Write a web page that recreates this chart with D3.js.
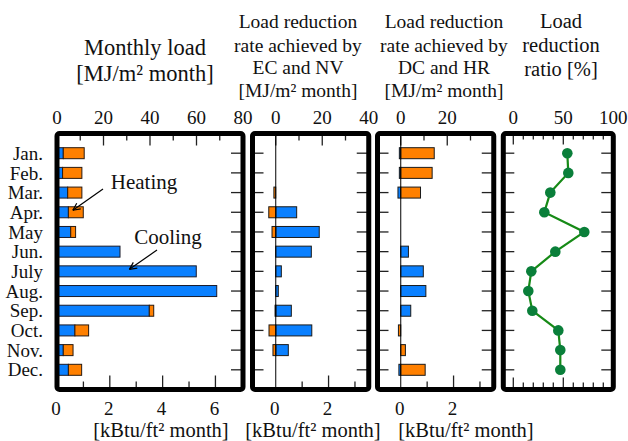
<!DOCTYPE html>
<html>
<head>
<meta charset="utf-8">
<script src="https://cdn.jsdelivr.net/npm/d3@7"></script>
<style>
  body { margin: 0; background: #fff; }
</style>
</head>
<body>
<div id="chart"></div>
<script>
// data (MJ/m2 month, and %)
const months = ["Jan.", "Feb.", "Mar.", "Apr.", "May", "Jun.", "July", "Aug.", "Sep.", "Oct.", "Nov.", "Dec."];
const coolLoad = [2.7, 2.4, 4.6, 4.9, 5.9, 27.1, 59.9, 68.7, 39.7, 7.7, 2.7, 4.9];
const heatLoad = [9.0, 8.3, 6.1, 6.4, 2.1, 0, 0, 0, 1.9, 5.9, 4.2, 5.7];
const ecnvCool = [0, 0, 0, 9.0, 18.7, 15.3, 2.4, 1.1, 6.7, 15.5, 5.4, 0];
const ecnvHeat = [0, 0, -0.8, -3.0, -1.6, 0, 0, 0, -0.3, -2.9, -1.2, 0];
const dchrCool = [-0.6, -0.6, -1.2, 0, 0, 3.3, 9.7, 10.8, 4.3, 0, 0, -0.8];
const dchrHeat = [14.4, 13.5, 8.5, 0, 0, 0, 0, 0, 0, -1.0, 2.0, 10.5];
const ratio = [54, 55, 37, 31, 71, 42, 18, 15, 19, 45, 47, 47];

const topTicksLoad = [0, 20, 40, 60, 80];
const topTicksRed = [0, 20, 40];
const topTicksRed2 = [0, 20];
const topTicksRatio = [0, 50, 100];
const kbtuLoad = [0, 2, 4, 6];
const kbtuRed = [0, 2];

const MJ_PER_KBTU = 11.357;
const width = 628, height = 441;
const blue = "#0a80ff", orange = "#ff8000", green = "#0a7f3a";
const serif = "'Liberation Serif', serif";

const svg = d3.select("#chart").append("svg")
    .attr("width", width).attr("height", height);

const y = d3.scaleLinear().domain([0, 13]).range([133.5, 389.5]);
const barH = 11;

const k = 2.325; // px per MJ
const panels = [
  {x: d3.scaleLinear().domain([0, 80]).range([57, 57 + 80 * k]), minor: 10, major: 20, labels: topTicksLoad, kbtu: kbtuLoad},
  {x: d3.scaleLinear().domain([-10, 40]).range([252.5, 252.5 + 50 * k]), minor: 10, major: 20, labels: topTicksRed, kbtu: kbtuRed},
  {x: d3.scaleLinear().domain([-10, 40]).range([377.5, 377.5 + 50 * k]), minor: 10, major: 20, labels: topTicksRed2, kbtu: kbtuRed},
  {x: d3.scaleLinear().domain([-10, 100]).range([503.3, 613.3]), minor: 10, major: 50, labels: topTicksRatio, kbtu: null}
];

const yTop = y.range()[0], yBot = y.range()[1];

panels.forEach(function(p, pi) {
  const g = svg.append("g");
  const [x0, x1] = p.x.range();
  const [d0, d1] = p.x.domain();

  // month ticks, both sides, inward
  months.forEach(function(m, i) {
    g.append("line").attr("x1", x0).attr("x2", x0 + 11)
      .attr("y1", y(i + 1)).attr("y2", y(i + 1)).attr("stroke", "#222").attr("stroke-width", 1.3);
    g.append("line").attr("x1", x1).attr("x2", x1 - 12)
      .attr("y1", y(i + 1)).attr("y2", y(i + 1)).attr("stroke", "#222").attr("stroke-width", 1.3);
  });

  // top ticks (MJ or %)
  for (let v = Math.max(0, d0 + p.minor); v < d1; v += p.minor) {
    const isMajor = v % p.major === 0;
    const len = pi === 3 ? (v === 0 || v === 50 ? 11 : 6) : (isMajor ? 12 : 7);
    g.append("line").attr("x1", p.x(v)).attr("x2", p.x(v))
      .attr("y1", yTop).attr("y2", yTop + len).attr("stroke", "#222").attr("stroke-width", 1.3);
  }
  // bottom ticks (kBtu or %)
  if (p.kbtu) {
    for (let kb = 1; kb * MJ_PER_KBTU < d1 - 1; kb++) {
      const len = kb % 2 === 0 ? 14 : 8;
      const xx = p.x(kb * MJ_PER_KBTU);
      g.append("line").attr("x1", xx).attr("x2", xx)
        .attr("y1", yBot).attr("y2", yBot - len).attr("stroke", "#222").attr("stroke-width", 1.3);
    }
  } else {
    for (let v = 0; v < d1; v += p.minor) {
      const len = (v === 0 || v === 50) ? 12 : 7;
      g.append("line").attr("x1", p.x(v)).attr("x2", p.x(v))
        .attr("y1", yBot).attr("y2", yBot - len).attr("stroke", "#222").attr("stroke-width", 1.3);
    }
  }

  // top labels
  g.selectAll(".tl").data(p.labels).join("text")
    .attr("x", d => p.x(d)).attr("y", 117).attr("dy", "0.35em")
    .attr("text-anchor", "middle").style("font-size", "19px").text(d => d);
  // bottom labels
  if (p.kbtu) {
    g.selectAll(".bl").data(p.kbtu).join("text")
      .attr("x", d => p.x(d * MJ_PER_KBTU) - 1).attr("y", 408).attr("dy", "0.35em")
      .attr("text-anchor", "middle").style("font-size", "19px").text(d => d);
  }
  p.g = g;
});

// panel 1: stacked monthly load
const p1 = panels[0];
months.forEach(function(m, i) {
  p1.g.append("rect").attr("x", p1.x(0)).attr("y", y(i + 1) - barH / 2)
    .attr("width", p1.x(coolLoad[i]) - p1.x(0)).attr("height", barH)
    .attr("fill", blue).attr("stroke", "#1a1a2a").attr("stroke-width", 1);
  if (heatLoad[i] > 0) {
    p1.g.append("rect").attr("x", p1.x(coolLoad[i])).attr("y", y(i + 1) - barH / 2)
      .attr("width", p1.x(coolLoad[i] + heatLoad[i]) - p1.x(coolLoad[i])).attr("height", barH)
      .attr("fill", orange).attr("stroke", "#2a1a10").attr("stroke-width", 1);
  }
});

// panels 2 and 3: signed bars
function signedBars(p, vals, color) {
  vals.forEach(function(v, i) {
    if (v === 0) return;
    const a = p.x(Math.min(0, v)), b = p.x(Math.max(0, v));
    p.g.append("rect").attr("x", a).attr("y", y(i + 1) - barH / 2)
      .attr("width", b - a).attr("height", barH)
      .attr("fill", color).attr("stroke", "#1a1a1a").attr("stroke-width", 1);
  });
}
signedBars(panels[1], ecnvCool, blue);
signedBars(panels[1], ecnvHeat, orange);
signedBars(panels[2], dchrCool, blue);
signedBars(panels[2], dchrHeat, orange);

[panels[1], panels[2]].forEach(function(p) {
  p.g.append("line").attr("x1", p.x(0)).attr("x2", p.x(0))
    .attr("y1", yTop).attr("y2", yBot).attr("stroke", "#000").attr("stroke-width", 1);
});

// panel 4: ratio line
const p4 = panels[3];
p4.g.append("path").datum(ratio)
  .attr("d", d3.line().x(d => p4.x(d)).y((d, i) => y(i + 1)))
  .attr("fill", "none").attr("stroke", "#168a16").attr("stroke-width", 2.2);
p4.g.selectAll(".dot").data(ratio).join("circle")
  .attr("cx", d => p4.x(d)).attr("cy", (d, i) => y(i + 1)).attr("r", 5.3)
  .attr("fill", green);

// frames
panels.forEach(function(p) {
  const [x0, x1] = p.x.range();
  svg.append("rect").attr("x", x0).attr("y", yTop).attr("width", x1 - x0).attr("height", yBot - yTop)
    .attr("rx", 2.5).attr("fill", "none").attr("stroke", "#000").attr("stroke-width", 5);
});

// month labels
svg.selectAll(".month").data(months).join("text")
  .attr("x", 43).attr("y", (d, i) => y(i + 1)).attr("dy", "0.35em")
  .attr("text-anchor", "end").style("font-size", "19px").text(d => d);

// titles
function lines(cx, ys, texts, size) {
  texts.forEach(function(t, i) {
    svg.append("text").attr("x", cx).attr("y", ys[i]).attr("dy", "0.35em")
      .attr("text-anchor", "middle").style("font-size", size + "px").text(t);
  });
}
lines(145, [47, 73], ["Monthly load", "[MJ/m\u00b2 month]"], 22.5);
lines(298, [21, 45, 67, 90], ["Load reduction", "rate achieved by", "EC and NV", "[MJ/m\u00b2 month]"], 19.5);
lines(444, [21, 45, 67, 90], ["Load reduction", "rate achieved by", "DC and HR", "[MJ/m\u00b2 month]"], 19.5);
lines(561, [21, 45, 69], ["Load", "reduction", "ratio [%]"], 20.5);

// bottom units
lines(161, [430], ["[kBtu/ft\u00b2 month]"], 20.5);
lines(313, [430], ["[kBtu/ft\u00b2 month]"], 20.5);
lines(466, [430], ["[kBtu/ft\u00b2 month]"], 20.5);

// annotations
function arrow(xa, ya, xb, yb) {
  const ang = Math.atan2(yb - ya, xb - xa), L = 8, w = 0.45;
  svg.append("line").attr("x1", xa).attr("y1", ya).attr("x2", xb).attr("y2", yb)
    .attr("stroke", "#000").attr("stroke-width", 1.2);
  [-w, w].forEach(function(s) {
    svg.append("line").attr("x1", xb).attr("y1", yb)
      .attr("x2", xb - L * Math.cos(ang + s)).attr("y2", yb - L * Math.sin(ang + s))
      .attr("stroke", "#000").attr("stroke-width", 1.2);
  });
}
svg.append("text").attr("x", 144).attr("y", 182).attr("dy", "0.35em")
  .attr("text-anchor", "middle").style("font-size", "21px").text("Heating");
arrow(103, 189, p1.x(coolLoad[3] + heatLoad[3] * 0.3), y(4) - 2);
svg.append("text").attr("x", 168).attr("y", 237).attr("dy", "0.35em")
  .attr("text-anchor", "middle").style("font-size", "21px").text("Cooling");
arrow(157, 250, p1.x(coolLoad[6] * 0.52), y(7) - 2);

// serif face on every text
svg.selectAll("text").style("font-family", serif).attr("fill", "#111");
</script>
</body>
</html>
